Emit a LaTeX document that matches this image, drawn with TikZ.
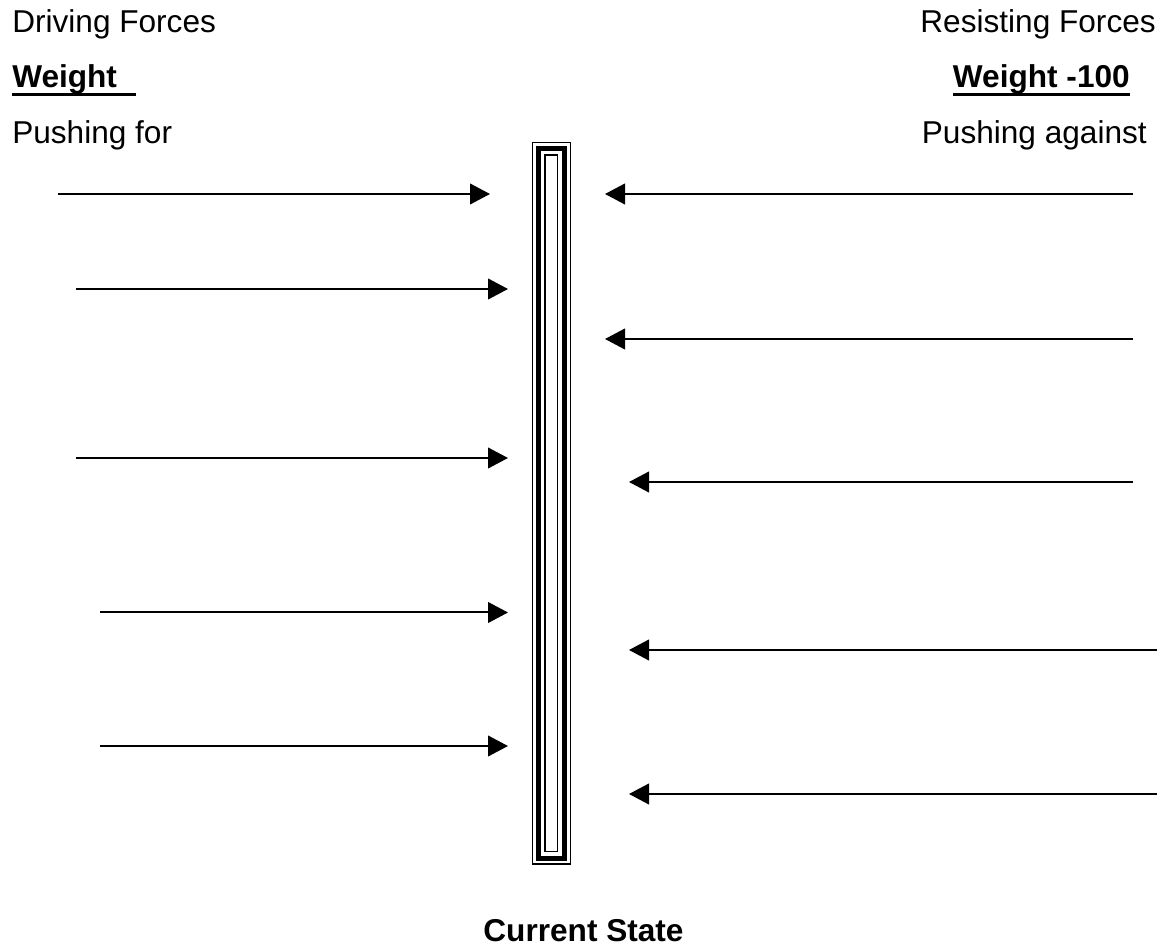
\documentclass[tikz,border=0pt]{standalone}
\usepackage{fontspec}
\setmainfont{Liberation Sans}
\usetikzlibrary{arrows.meta}

\tikzset{
  lbl/.style={font=\fontsize{23.7}{28}\selectfont, inner sep=0pt},
  force/.style={-{Triangle[length=15pt,width=15.5pt]}, line width=1.5pt},
  uline/.style={line width=2.2pt},
}

\begin{document}
\begin{tikzpicture}[x=0.75pt, y=-0.75pt]
\useasboundingbox (0,0) rectangle (1165,948);

\node[lbl, anchor=base west] (drive) at (12,33) {Driving Forces};
\node[lbl, anchor=base west] (wleft) at (12,87.5) {\bfseries Weight};
\node[lbl, anchor=base west] (pushfor) at (12,144) {Pushing for};

\node[lbl, anchor=base east] (resist) at (1156,33) {Resisting Forces};
\node[lbl, anchor=base east] (wright) at (1130,87.5) {\bfseries Weight -100};
\node[lbl, anchor=base east] (against) at (1147,144) {Pushing against};

\draw[uline] ([yshift=-5.3pt]wleft.base west) -- ++(124,0);
\draw[uline] ([yshift=-5.3pt]wright.base west) -- ([yshift=-5.3pt]wright.base east);

\node[lbl, anchor=base] (state) at (583.5,941) {\bfseries Current State};

\node[draw, line width=1.1pt, inner sep=0pt, minimum width=28.5pt, minimum height=541pt] (bar) at (551.5,503.25) {};
\draw[line width=3.9pt] ([xshift=5.2pt,yshift=-4.9pt]bar.north west) rectangle ([xshift=-5.2pt,yshift=4.9pt]bar.south east);
\draw[line width=1.2pt] ([xshift=9.8pt,yshift=-10pt]bar.north west) rectangle ([xshift=-10.3pt,yshift=10pt]bar.south east);

\coordinate (f1a) at (58,194);   \coordinate (f1b) at (490,194);
\coordinate (f2a) at (76,289);   \coordinate (f2b) at (508,289);
\coordinate (f3a) at (76,458);   \coordinate (f3b) at (508,458);
\coordinate (f4a) at (100,612.5); \coordinate (f4b) at (508,612.5);
\coordinate (f5a) at (100,746);  \coordinate (f5b) at (508,746);

\coordinate (r1a) at (1133,194); \coordinate (r1b) at (605,194);
\coordinate (r2a) at (1133,339); \coordinate (r2b) at (605,339);
\coordinate (r3a) at (1133,482); \coordinate (r3b) at (629,482);
\coordinate (r4a) at (1157,650); \coordinate (r4b) at (629,650);
\coordinate (r5a) at (1157,794); \coordinate (r5b) at (629,794);

\draw[force] (f1a) -- (f1b);
\draw[force] (f2a) -- (f2b);
\draw[force] (f3a) -- (f3b);
\draw[force] (f4a) -- (f4b);
\draw[force] (f5a) -- (f5b);

\draw[force] (r1a) -- (r1b);
\draw[force] (r2a) -- (r2b);
\draw[force] (r3a) -- (r3b);
\draw[force] (r4a) -- (r4b);
\draw[force] (r5a) -- (r5b);

\end{tikzpicture}
\end{document}
